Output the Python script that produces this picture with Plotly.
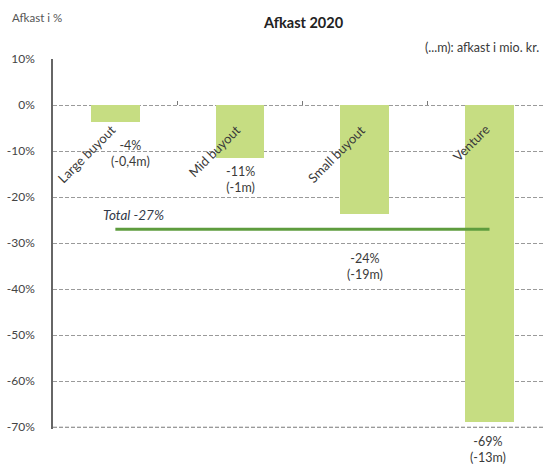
import plotly.graph_objects as go

categories = ["Large buyout", "Mid buyout", "Small buyout", "Venture"]
returns_pct = [-3.7, -11.5, -23.7, -68.9]
pct_labels = ["-4%", "-11%", "-24%", "-69%"]
mio_labels = ["(-0,4m)", "(-1m)", "(-19m)", "(-13m)"]
total_pct = -27
total_label = "Total -27%"
y_ticks = [10, 0, -10, -20, -30, -40, -50, -60, -70]
y_ticktext = [f"{v}%" for v in y_ticks]

# placement of value labels: anchor (axis % units), pixel shifts
label_y = [-10.6, -16.1, -35.0, -70.0]
label_yshift = [0, 0, 0, -22]
label_xshift = [15, 0, 0, -2]

FONT = "Lato"
TXT = "#3a3a3a"
GRID = "#9a9a9a"

fig = go.Figure()
fig.add_trace(go.Bar(
    x=categories, y=returns_pct, width=0.39,
    marker=dict(color="#c6dd82", line=dict(width=0)),
    showlegend=False, hoverinfo="skip",
))
fig.add_trace(go.Scatter(
    x=[categories[0], categories[-1]], y=[total_pct, total_pct],
    mode="lines", line=dict(color="#5e9c3e", width=3),
    showlegend=False, hoverinfo="skip",
))

annotations = []
for i, c in enumerate(categories):
    annotations.append(dict(
        x=c, y=0, xref="x", yref="y", text=c, showarrow=False,
        textangle=-45, xanchor="right", yanchor="top",
        xshift=6, yshift=-14,
        font=dict(family=FONT, size=13, color=TXT),
    ))
    annotations.append(dict(
        x=c, y=label_y[i], xref="x", yref="y",
        text=f"{pct_labels[i]}<br>{mio_labels[i]}", showarrow=False,
        xanchor="center", yanchor="middle",
        xshift=label_xshift[i], yshift=label_yshift[i],
        font=dict(family=FONT, size=12.5, color=TXT),
    ))
annotations.append(dict(
    x=categories[0], y=total_pct, xref="x", yref="y", text=f"<i>{total_label}</i>",
    showarrow=False, xanchor="center", yanchor="bottom", xshift=18, yshift=4,
    font=dict(family=FONT, size=13.5, color="#333a4a"),
))
annotations.append(dict(
    x=0.51, y=1, xref="paper", yref="paper", text="<b>Afkast 2020</b>",
    showarrow=False, xanchor="center", yanchor="middle", yshift=37,
    font=dict(family=FONT, size=14.5, color="#222"),
))
annotations.append(dict(
    x=0, y=1, xref="paper", yref="paper", text="Afkast i %",
    showarrow=False, xanchor="left", yanchor="middle", xshift=-43, yshift=42,
    font=dict(family=FONT, size=11.5, color="#555"),
))
annotations.append(dict(
    x=1, y=1, xref="paper", yref="paper", text="(...m): afkast i mio. kr.",
    showarrow=False, xanchor="right", yanchor="bottom", xshift=-3, yshift=2,
    font=dict(family=FONT, size=12.5, color=TXT),
))

fig.update_layout(
    width=544, height=464,
    margin=dict(l=53, r=0, t=59, b=35),
    paper_bgcolor="white", plot_bgcolor="white",
    font=dict(family=FONT, size=12, color=TXT),
    annotations=annotations,
    shapes=[dict(type="line", xref="paper", x0=0, x1=1, yref="y",
                 y0=y_ticks[-1], y1=y_ticks[-1], layer="below",
                 line=dict(color=GRID, width=1, dash="4px,2px"))],
    bargap=0,
    xaxis=dict(
        type="category", range=[-0.5, 3.437],
        showticklabels=False, showgrid=False, zeroline=False, showline=False,
        ticks="inside", tickson="boundaries", ticklen=4, tickcolor="#777",
        anchor="free", position=70.4 / 80.4,
    ),
    yaxis=dict(
        range=[-70.4, 10], tickvals=y_ticks, ticktext=y_ticktext,
        showgrid=True, gridcolor=GRID, griddash="4px,2px", gridwidth=1,
        zeroline=False, showline=True, linecolor="#666", linewidth=1.5,
        ticks="", ticklabelstandoff=14,
        tickfont=dict(family=FONT, size=12, color="#444"),
    ),
)

fig.write_html(
    "out.html",
    config={"displayModeBar": False},
    post_script="document.body.style.margin='0';document.body.style.overflow='hidden';",
)
